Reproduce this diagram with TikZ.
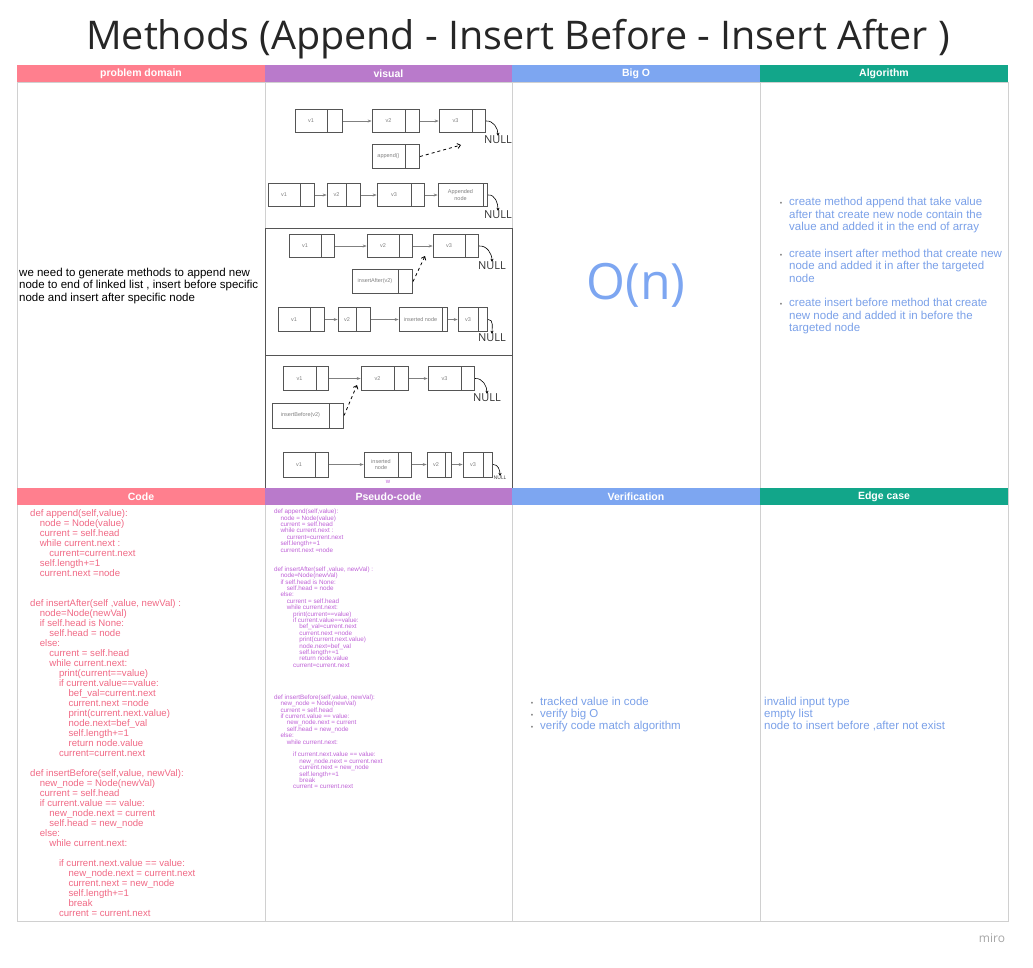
\documentclass[tikz,border=0pt]{standalone}
\usepackage{fontspec}
\setmainfont{Liberation Sans}
\newfontfamily\openfont{Open Sans}
\usetikzlibrary{positioning, arrows.meta}

\definecolor{pinkhead}{RGB}{255,127,142}
\definecolor{purplehead}{RGB}{185,122,203}
\definecolor{bluehead}{RGB}{125,166,241}
\definecolor{tealhead}{RGB}{18,166,138}
\definecolor{codepink}{RGB}{240,104,132}
\definecolor{pseudopurple}{RGB}{190,96,214}
\definecolor{algoblue}{RGB}{122,160,232}
\definecolor{gridgray}{RGB}{208,208,208}
\definecolor{boxgray}{RGB}{85,85,85}

\newcommand\ti{\hspace*{1em}}
\newcommand\dotmark{\llap{\textcolor{gray}{\scalebox{0.6}{\textbullet}}\hspace{7pt}}}
\newcommand\pycode[1]{def append(self,value):\\
\ti node = Node(value)\\
\ti current = self.head\\
\ti while current.next :\\
\ti\ti current=current.next\\
\ti self.length+=1\\
\ti current.next =node\\
\mbox{}\\
\mbox{}\\
def insertAfter(self ,value, newVal) :\\
\ti node=Node(newVal)\\
\ti if self.head is None:\\
\ti\ti self.head = node\\
\ti else:\\
\ti\ti current = self.head\\
\ti\ti while current.next:\\
\ti\ti\ti print(current==value)\\
\ti\ti\ti if current.value==value:\\
\ti\ti\ti\ti bef\_val=current.next\\
\ti\ti\ti\ti current.next =node\\
\ti\ti\ti\ti print(current.next.value)\\
\ti\ti\ti\ti node.next=bef\_val\\
\ti\ti\ti\ti self.length+=1\\
\ti\ti\ti\ti return node.value\\
\ti\ti\ti current=current.next\\
#1def insertBefore(self,value, newVal):\\
\ti new\_node = Node(newVal)\\
\ti current = self.head\\
\ti if current.value == value:\\
\ti\ti new\_node.next = current\\
\ti\ti self.head = new\_node\\
\ti else:\\
\ti\ti while current.next:\\
\mbox{}\\
\ti\ti\ti if current.next.value == value:\\
\ti\ti\ti\ti new\_node.next = current.next\\
\ti\ti\ti\ti current.next = new\_node\\
\ti\ti\ti\ti self.length+=1\\
\ti\ti\ti\ti break\\
\ti\ti\ti current = current.next}

\begin{document}
\begin{tikzpicture}[x=1pt, y=-1pt,
  hdr/.style={fill=#1, text=white, font=\fontsize{10.5}{12}\selectfont\bfseries, minimum width=248pt, minimum height=17pt, inner sep=0pt},
  cell/.style={draw=boxgray, line width=0.7pt, inner sep=0pt, minimum height=23.5pt, text=gray, font=\fontsize{5.5}{6.5}\selectfont, align=center},
  val/.style={cell, minimum width=#1},
  ptr/.style={cell, minimum width=#1},
  nulltext/.style={font=\openfont\fontsize{11}{12}\selectfont, text=black!80, inner sep=0pt},
  link/.style={-{Stealth[length=4pt, width=3pt]}, draw=gray, line width=0.6pt},
  hop/.style={-{Straight Barb[length=3pt, width=5pt]}, dashed, line width=0.8pt},
  endarr/.style={-{Stealth[length=3pt, width=3pt]}, line width=0.6pt},
  block/.style={inner sep=0pt, anchor=north west, align=left}]
\useasboundingbox (0,0) rectangle (1033,967);

\node[font=\openfont\fontsize{39.5}{44}\selectfont, text=black!85] (title) at (518,39) {Methods (Append - Insert Before - Insert After )};

\draw[gridgray] (17,82) rectangle (1008,921);
\draw[gridgray] (265,82) -- (265,921) (512,82) -- (512,921) (760,82) -- (760,921);
\draw[boxgray, line width=0.8pt] (265,228) rectangle (512,355);
\draw[boxgray, line width=0.8pt] (265,355) rectangle (512,488);

\node[hdr=pinkhead] (h1) at (141,73.5) {problem domain};
\node[hdr=purplehead] (h2) at (388.5,73.5) {visual};
\node[hdr=bluehead] (h3) at (636,73.5) {Big O};
\node[hdr=tealhead] (h4) at (884,73.5) {Algorithm};
\node[hdr=pinkhead] (h5) at (141,496.5) {Code};
\node[hdr=purplehead] (h6) at (388.5,496.5) {Pseudo-code};
\node[hdr=bluehead] (h7) at (636,496.5) {Verification};
\node[hdr=tealhead] (h8) at (884,496.5) {Edge case};

\node[inner sep=0pt, anchor=west, align=left, font=\fontsize{11.5}{12.3}\selectfont] (domain) at (19,286) {we need to generate methods to append new\\node to end of linked list , insert before specific\\node and insert after specific node};

\node[font=\openfont\fontsize{50}{56}\selectfont, text=bluehead] (bigo) at (636,285) {O(n)};

\node[block, font=\fontsize{11.5}{12.5}\selectfont, text=algoblue] (algo) at (789,197) {\dotmark create method append that take value\\after that create new node contain the\\value and added it in the end of array\\[14pt]\dotmark create insert after method that create new\\node and added it in after the targeted\\node\\[12pt]\dotmark create insert before method that create\\new node and added it in before the\\targeted node};

\node[block, font=\fontsize{9.6}{10}\selectfont, text=codepink] (code) at (30,509) {\pycode{\mbox{}\\}};
\node[block, font=\fontsize{6.3}{6.4}\selectfont, text=pseudopurple] (pseudo) at (274,509) {\pycode{\mbox{}\\\mbox{}\\\mbox{}\\\mbox{}\\}};

\node[block, font=\fontsize{11.5}{12}\selectfont, text=algoblue] (verify) at (540,697) {\dotmark tracked value in code\\\dotmark verify big O\\\dotmark verify code match algorithm};
\node[block, font=\fontsize{11.5}{12}\selectfont, text=algoblue] (edge) at (764,697) {invalid input type\\empty list\\node to insert before ,after not exist};

\node[font=\openfont\fontsize{12}{14}\selectfont, text=black!35] (miro) at (992,938) {miro};

% append
\node[val=32pt] (a1) at (311,121) {v1};
\node[ptr=15pt, right=0pt of a1] (a1p) {};
\node[val=33pt] (a2) at (388.5,121) {v2};
\node[ptr=14pt, right=0pt of a2] (a2p) {};
\node[val=33pt] (a3) at (455.5,121) {v3};
\node[ptr=13pt, right=0pt of a3] (a3p) {};
\node[nulltext] (null1) at (498,140) {NULL};
\node[val=33pt] (ap) at (388.5,156.5) {append()};
\node[ptr=14pt, right=0pt of ap] (app) {};
\coordinate (apEnd) at (461,145);
\draw[link] (a1p) -- (a2);
\draw[link] (a2p) -- (a3);
\draw[endarr] (a3p.east) to[out=5, in=90] (null1.north);
\draw[hop] (app.east) -- (apEnd);

\node[val=32pt] (b1) at (284,195) {v1};
\node[ptr=14pt, right=0pt of b1] (b1p) {};
\node[val=19pt] (b2) at (336.5,195) {v2};
\node[ptr=14pt, right=0pt of b2] (b2p) {};
\node[val=34pt] (b3) at (394,195) {v3};
\node[ptr=13pt, right=0pt of b3] (b3p) {};
\node[val=45pt] (b4) at (460.5,195) {Appended\\node};
\node[ptr=4pt, right=0pt of b4] (b4p) {};
\node[nulltext] (null2) at (498,215) {NULL};
\draw[link] (b1p) -- (b2);
\draw[link] (b2p) -- (b3);
\draw[link] (b3p) -- (b4);
\draw[endarr] (b4p.east) to[out=5, in=90] (null2.north);

% insert after
\node[val=32pt] (c1) at (305,246) {v1};
\node[ptr=13pt, right=0pt of c1] (c1p) {};
\node[val=32pt] (c2) at (383,246) {v2};
\node[ptr=13pt, right=0pt of c2] (c2p) {};
\node[val=32pt] (c3) at (449,246) {v3};
\node[ptr=13pt, right=0pt of c3] (c3p) {};
\node[nulltext] (null3) at (492,266) {NULL};
\node[val=46pt] (ia) at (375,281.5) {insertAfter(v2)};
\node[ptr=14pt, right=0pt of ia] (iap) {};
\coordinate (iaEnd) at (425,256);
\draw[link] (c1p) -- (c2);
\draw[link] (c2p) -- (c3);
\draw[endarr] (c3p.east) to[out=5, in=90] (null3.north);
\draw[hop] (iap.east) -- (iaEnd);

\node[val=32pt] (d1) at (294,319.5) {v1};
\node[ptr=14pt, right=0pt of d1] (d1p) {};
\node[val=18pt] (d2) at (347,319.5) {v2};
\node[ptr=14pt, right=0pt of d2] (d2p) {};
\node[val=43pt] (d3) at (420.5,319.5) {inserted node};
\node[ptr=5pt, right=0pt of d3] (d3p) {};
\node[val=20pt] (d4) at (468,319.5) {v3};
\node[ptr=9pt, right=0pt of d4] (d4p) {};
\node[nulltext] (null4) at (492,338) {NULL};
\draw[link] (d1p) -- (d2);
\draw[link] (d2p) -- (d3);
\draw[link] (d3p) -- (d4);
\draw[endarr] (d4p.east) to[out=5, in=90] (null4.north);

% insert before
\node[val=33pt] (e1) at (299.5,378.5) {v1};
\node[ptr=12pt, right=0pt of e1] (e1p) {};
\node[val=33pt] (e2) at (377.5,378.5) {v2};
\node[ptr=14pt, right=0pt of e2] (e2p) {};
\node[val=33pt] (e3) at (444.5,378.5) {v3};
\node[ptr=13pt, right=0pt of e3] (e3p) {};
\node[nulltext] (null5) at (487,398) {NULL};
\node[val=57pt, minimum height=25pt] (ib) at (300.5,415.5) {insertBefore(v2)};
\node[ptr=14pt, minimum height=25pt, right=0pt of ib] (ibp) {};
\coordinate (ibEnd) at (357,385);
\draw[link] (e1p) -- (e2);
\draw[link] (e2p) -- (e3);
\draw[endarr] (e3p.east) to[out=5, in=90] (null5.north);
\draw[hop] (ibp.east) -- (ibEnd);

\node[val=32pt, minimum height=25pt] (f1) at (299,464.5) {v1};
\node[ptr=13pt, minimum height=25pt, right=0pt of f1] (f1p) {};
\node[val=34pt, minimum height=25pt] (f2) at (381,464.5) {inserted\\node};
\node[ptr=13pt, minimum height=25pt, right=0pt of f2] (f2p) {};
\node[val=18pt, minimum height=25pt] (f3) at (436,464.5) {v2};
\node[ptr=6pt, minimum height=25pt, right=0pt of f3] (f3p) {};
\node[val=20pt, minimum height=25pt] (f4) at (473,464.5) {v3};
\node[ptr=9pt, minimum height=25pt, right=0pt of f4] (f4p) {};
\node[nulltext, font=\openfont\fontsize{5}{6}\selectfont] (null6) at (500,478) {NULL};
\node[inner sep=0pt, text=pseudopurple, font=\fontsize{6}{7}\selectfont] (wmark) at (388,482) {w};
\draw[link] (f1p) -- (f2);
\draw[link] (f2p) -- (f3);
\draw[link] (f3p) -- (f4);
\draw[endarr] (f4p.east) to[out=5, in=90] (null6.north);

\end{tikzpicture}
\end{document}
